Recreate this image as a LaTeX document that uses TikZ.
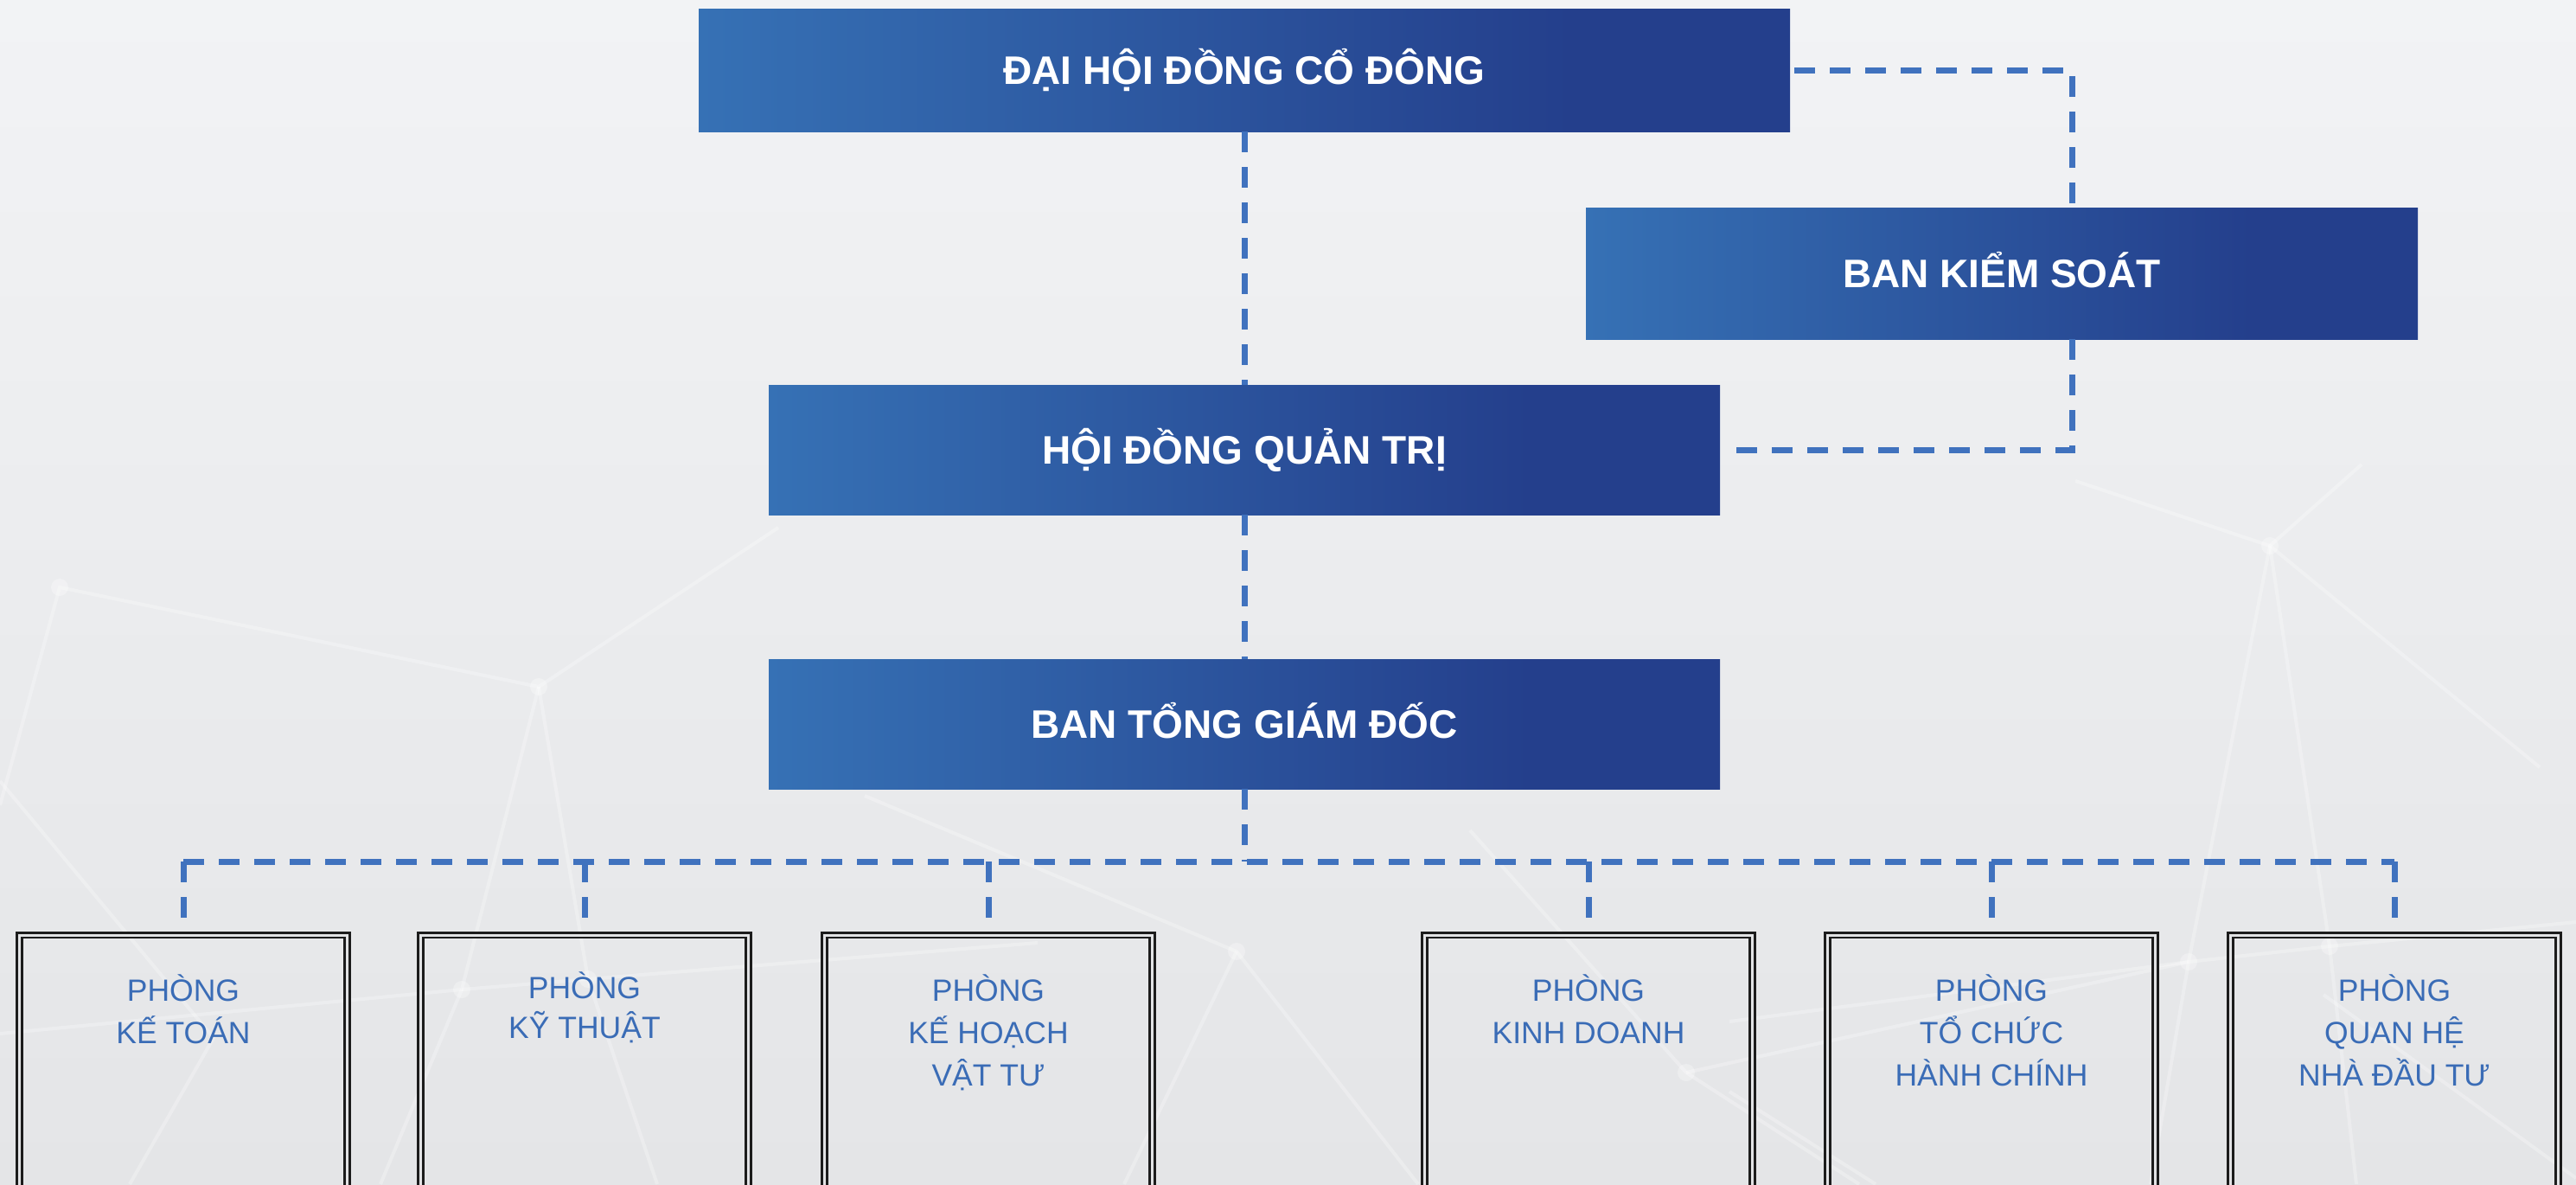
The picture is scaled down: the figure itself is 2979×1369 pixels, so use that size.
\documentclass[tikz,border=0pt]{standalone}
\usepackage{fontspec}
\setmainfont{Liberation Sans}
\definecolor{bla}{RGB}{54,113,181}
\definecolor{blb}{RGB}{36,63,140}
\definecolor{dashc}{RGB}{64,114,190}
\definecolor{txtc}{RGB}{58,108,182}
\definecolor{bgtop}{RGB}{242,243,245}
\definecolor{bgbot}{RGB}{228,229,231}
\definecolor{framec}{RGB}{28,28,28}
\definecolor{gapc}{RGB}{226,227,229}
\pgfdeclarehorizontalshading{bluegrad}{100bp}{color(0bp)=(bla); color(25bp)=(bla); color(65bp)=(blb); color(100bp)=(blb)}
\begin{document}
\begin{tikzpicture}[x=1pt,y=-1pt,
  bluebox/.style={shading=bluegrad, inner sep=0pt, text=white,
    font=\fontsize{46}{50}\selectfont\bfseries, text height=33pt, text depth=0pt},
  dept/.style={draw=framec, double=gapc, line width=2.8pt, double distance=2.5pt,
    minimum width=379pt, minimum height=400pt, anchor=north, inner sep=0pt},
  deptlabel/.style={anchor=north, inner sep=0pt, align=center, text=txtc,
    font=\fontsize{35.5}{49}\selectfont},
  conn/.style={draw=dashc, line width=7pt, dash pattern=on 24pt off 17pt},
  netline/.style={draw=white, line width=4pt, opacity=0.28},
  netdot/.style={fill=white, opacity=0.3}
]
\useasboundingbox (0,0) rectangle (2979,1369);
\clip (0,0) rectangle (2979,1369);
\shade[top color=bgtop, bottom color=bgbot] (0,0) rectangle (2979,1369);

% faint background network
\draw[netline] (0,931) -- (69,679) -- (623,794) -- (900,610);
\draw[netline] (623,794) -- (534,1144) -- (0,1195);
\draw[netline] (623,794) -- (680,1132) -- (534,1144);
\draw[netline] (680,1132) -- (1200,1090);
\draw[netline] (0,903) -- (247,1200) -- (150,1369);
\draw[netline] (534,1144) -- (440,1369);
\draw[netline] (680,1132) -- (760,1369);
\draw[netline] (1000,920) -- (1430,1100) -- (1640,1369);
\draw[netline] (1430,1100) -- (1300,1369);
\draw[netline] (1700,960) -- (1950,1240) -- (2150,1369);
\draw[netline] (2000,1181) -- (2531,1112) -- (2694,1094) -- (2979,1066);
\draw[netline] (2731,537) -- (2625,631) -- (2694,1094) -- (2725,1369);
\draw[netline] (2625,631) -- (2531,1112) -- (2487,1369);
\draw[netline] (2400,556) -- (2625,631) -- (2937,887);
\draw[netline] (2687,1150) -- (2979,1362);
\draw[netline] (2000,1262) -- (2169,1369);
\draw[netline] (1950,1240) -- (2531,1112);
\foreach \p in {(69,679),(623,794),(534,1144),(680,1132),(2625,631),(2531,1112),(2694,1094),(1430,1100),(1950,1240)}
  \fill[netdot] \p circle (10pt);

% main boxes
\node[bluebox, minimum width=1262pt, minimum height=142pt] (dhcd) at (1439,81) {ĐẠI HỘI ĐỒNG CỔ ĐÔNG};
\node[bluebox, minimum width=962pt, minimum height=152pt] (bks) at (2315,316) {BAN KIỂM SOÁT};
\node[bluebox, minimum width=1100pt, minimum height=150pt] (hdqt) at (1439,520) {HỘI ĐỒNG QUẢN TRỊ};
\node[bluebox, minimum width=1100pt, minimum height=150pt] (btgd) at (1439,837) {BAN TỔNG GIÁM ĐỐC};

% department boxes
\node[dept] (p1) at (212,1080) {};
\node[dept] (p2) at (676,1080) {};
\node[dept] (p3) at (1143,1080) {};
\node[dept] (p4) at (1837,1080) {};
\node[dept] (p5) at (2303,1080) {};
\node[dept] (p6) at (2769,1080) {};

\node[deptlabel] (p1t) at (212,1122) {\rule{0pt}{35pt}PHÒNG\\KẾ TOÁN};
\node[deptlabel, font=\fontsize{35.5}{46}\selectfont] (p2t) at (676,1119) {\rule{0pt}{35pt}PHÒNG\\KỸ THUẬT};
\node[deptlabel] (p3t) at (1143,1122) {\rule{0pt}{35pt}PHÒNG\\KẾ HOẠCH\\VẬT TƯ};
\node[deptlabel] (p4t) at (1837,1122) {\rule{0pt}{35pt}PHÒNG\\KINH DOANH};
\node[deptlabel] (p5t) at (2303,1122) {\rule{0pt}{35pt}PHÒNG\\TỔ CHỨC\\HÀNH CHÍNH};
\node[deptlabel] (p6t) at (2769,1122) {\rule{0pt}{35pt}PHÒNG\\QUAN HỆ\\NHÀ ĐẦU TƯ};

% connectors
\coordinate (kx) at (2396,0);
\coordinate (bus) at (0,996);
\draw[conn] ([xshift=5pt]dhcd.east) -| (kx |- bks.north);
\draw[conn] (kx |- bks.south) |- ([xshift=2pt]hdqt.east);
\draw[conn] (dhcd.south) -- (hdqt.north);
\draw[conn] (hdqt.south) -- (btgd.north);
\draw[conn] (btgd.south) -- (btgd.south |- bus);
\draw[conn] (p1.north |- bus) -- (p6.north |- bus);
\foreach \i in {1,...,6}{
  \draw[conn, shorten >=4pt] (p\i.north |- bus) -- (p\i.north);
}
\end{tikzpicture}
\end{document}
